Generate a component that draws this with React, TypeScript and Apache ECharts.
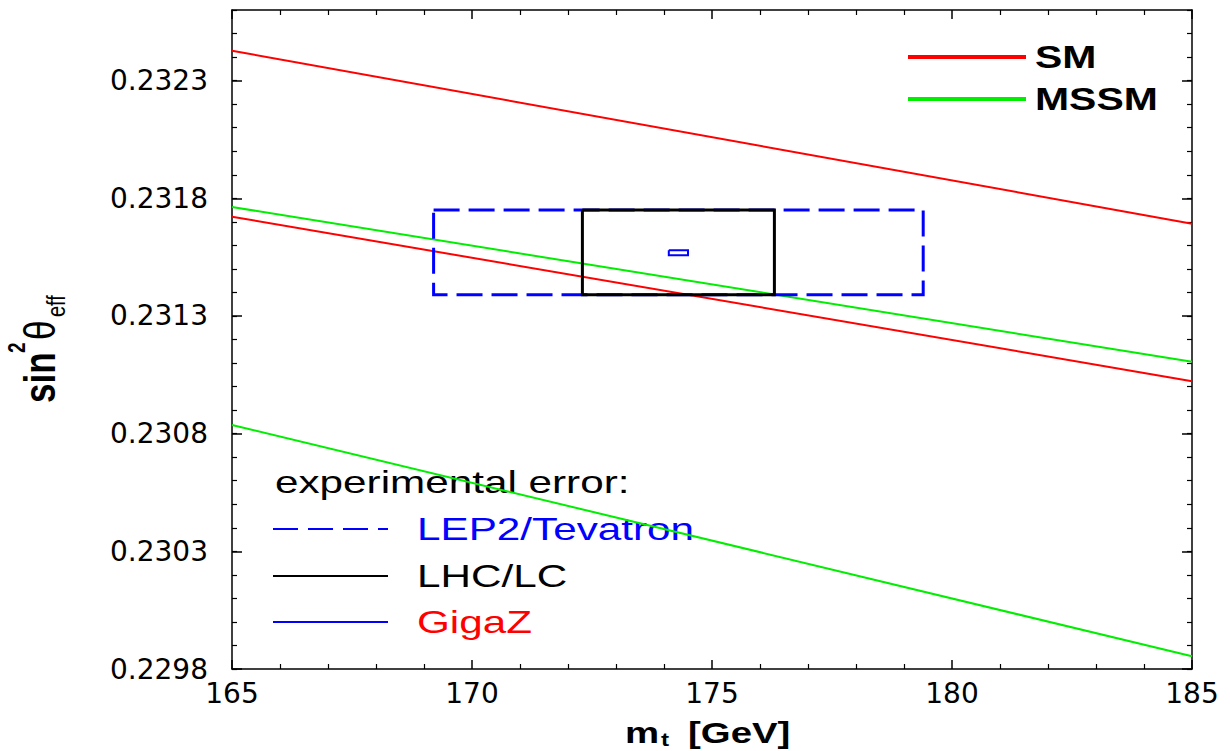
import React, { useEffect, useRef } from "react";
import * as echarts from "echarts";

// ---- data ----
const mtRange = [165, 185];
const smUpper = [0.232427, 0.231692];
const smLower = [0.231722, 0.231023];
const mssmUpper = [0.231763, 0.231105];
const mssmLower = [0.230837, 0.229854];

const lep2Mt = [169.2, 179.4];
const lep2Sw = [0.23139, 0.23175];
const lhcMt = [172.3, 176.3];
const lhcSw = [0.23139, 0.23175];
const gigazMt = [174.1, 174.5];
const gigazSw = [0.231558, 0.231579];

const xTicks = [165, 170, 175, 180, 185];
const yTicks = [0.2298, 0.2303, 0.2308, 0.2313, 0.2318, 0.2323];
const yMin = 0.2298;
const yMax = 0.2326;

const RED = "#ff0000";
const GREEN = "#00ee00";
const BLUE = "#0000ff";
const SANS = "Liberation Sans, Arial, Helvetica, sans-serif";
const SX = 1.28;

const linePts = (ys: number[]) => mtRange.map((m, i) => [m, ys[i]]);
const rectPts = (xs: number[], ys: number[]) => [
  [xs[0], ys[1]],
  [xs[1], ys[1]],
  [xs[1], ys[0]],
  [xs[0], ys[0]],
  [xs[0], ys[1]],
];

function txt(x: number, y: number, text: string, size: number, opts: any = {}) {
  return {
    type: "text",
    x,
    y,
    scaleX: opts.scaleX ?? SX,
    scaleY: opts.scaleY ?? 1,
    rotation: opts.rotation ?? 0,
    silent: true,
    style: {
      text,
      fontSize: size,
      fontFamily: SANS,
      fontWeight: opts.bold ? "bold" : "normal",
      fill: opts.fill ?? "#000",
      align: "left",
      verticalAlign: "middle",
    },
  };
}

function seg(x1: number, y1: number, x2: number, y2: number, stroke: string, lw: number, dash?: number[]) {
  return {
    type: "line",
    silent: true,
    shape: { x1, y1, x2, y2 },
    style: { stroke, lineWidth: lw, lineDash: dash, lineCap: "butt" },
  };
}

export default function App() {
  const ref = useRef<HTMLDivElement>(null);
  useEffect(() => {
    if (!ref.current) return;
    const chart = echarts.init(ref.current, null, { renderer: "svg" });
    const axisLine = { show: true, lineStyle: { color: "#000", width: 1.5 } };
    const majorTick = { show: true, inside: true, length: 10, lineStyle: { color: "#000", width: 1.5 } };
    const minorTick = { show: true, splitNumber: 5, length: 5, lineStyle: { color: "#000", width: 1.2 } };
    const labelFont = { fontFamily: "DejaVu Sans, sans-serif", fontSize: 28, color: "#000" };

    const yMajor = (pos: string, labels: boolean) => ({
      type: "value",
      position: pos,
      offset: 0,
      min: yMin,
      max: yMax,
      axisLine,
      axisTick: { ...majorTick, customValues: yTicks },
      axisLabel: labels
        ? { show: true, customValues: yTicks, margin: 24, formatter: (v: number) => v.toFixed(4), ...labelFont }
        : { show: false },
      splitLine: { show: false },
    });
    const yMinor = (pos: string) => ({
      type: "value",
      position: pos,
      offset: 0,
      min: yMin,
      max: yMax,
      interval: 0.0001,
      axisLine: { show: false },
      axisTick: { show: true, inside: true, length: 5, lineStyle: { color: "#000", width: 1.2 } },
      axisLabel: { show: false },
      splitLine: { show: false },
    });
    const xAxis = (pos: string, labels: boolean) => ({
      type: "value",
      position: pos,
      min: mtRange[0],
      max: mtRange[1],
      interval: 5,
      axisLine,
      axisTick: { ...majorTick, length: 9 },
      minorTick,
      axisLabel: labels ? { show: true, margin: 10, customValues: xTicks, ...labelFont } : { show: false },
      splitLine: { show: false },
      minorSplitLine: { show: false },
    });

    const curve = (name: string, ys: number[], color: string) => ({
      name,
      type: "line",
      data: linePts(ys),
      showSymbol: false,
      symbol: "none",
      silent: true,
      lineStyle: { color, width: 2 },
      z: 3,
    });
    const box = (name: string, xs: number[], ys: number[], color: string, w: number, dash?: any, z = 4) => ({
      name,
      type: "line",
      data: rectPts(xs, ys),
      showSymbol: false,
      symbol: "none",
      silent: true,
      lineStyle: { color, width: w, type: dash ?? "solid", cap: "butt", join: "miter" },
      z,
    });

    const yBase = (b: number, f: number) => b - 0.3465 * f * 1.27;
    const LS = 1.32;

    chart.setOption({
      animation: false,
      backgroundColor: "#fff",
      grid: { left: 232, right: 38, top: 10, bottom: 82, containLabel: false },
      xAxis: [xAxis("bottom", true), xAxis("top", false)],
      yAxis: [yMajor("left", true), yMinor("left"), yMajor("right", false), yMinor("right")],
      series: [
        box("LEP2/Tevatron", lep2Mt, lep2Sw, BLUE, 3, [26, 9], 4),
        box("LHC/LC", lhcMt, lhcSw, "#000", 3, undefined, 5),
        box("GigaZ", gigazMt, gigazSw, BLUE, 2, undefined, 6),
        curve("SM upper", smUpper, RED),
        curve("SM lower", smLower, RED),
        curve("MSSM upper", mssmUpper, GREEN),
        curve("MSSM lower", mssmLower, GREEN),
      ],
      graphic: [
        // top-right legend
        seg(908, 57, 1026, 57, RED, 4),
        seg(908, 99, 1026, 99, GREEN, 4),
        txt(1035, 57, "SM", 32, { bold: true }),
        txt(1035, 99, "MSSM", 32, { bold: true }),
        // experimental error legend
        txt(275, 481.5, "experimental error:", 32, { scaleX: LS }),
        seg(273, 529, 388, 529, BLUE, 2, [25, 10]),
        txt(417, 529, "LEP2/Tevatron", 32, { fill: BLUE, scaleX: LS }),
        seg(273, 576, 388, 576, "#000", 2),
        txt(417, 576, "LHC/LC", 32, { scaleX: LS }),
        seg(273, 622, 388, 622, BLUE, 2),
        txt(417, 622, "GigaZ", 32, { fill: RED, scaleX: LS }),
        // x axis title
        txt(625, 732.5, "m", 30, { bold: true }),
        txt(661, 739, "t", 19, { bold: true }),
        txt(688, 732.5, "[GeV]", 30, { bold: true }),
        // y axis title (rotated)
        txt(yBase(55, 35), 403, "sin", 35, { bold: true, rotation: Math.PI / 2, scaleX: 1, scaleY: 1.27 }),
        txt(yBase(25, 19), 353, "2", 19, { bold: true, rotation: Math.PI / 2, scaleX: 1, scaleY: 1.27 }),
        txt(yBase(55, 35), 340, "θ", 35, { rotation: Math.PI / 2, scaleX: 1, scaleY: 1.27 }),
        txt(yBase(65, 20), 317, "eff", 20, { rotation: Math.PI / 2, scaleX: 1, scaleY: 1.27 }),
      ],
    });
    return () => chart.dispose();
  }, []);
  return (
    <div
      ref={ref}
      style={{ position: "fixed", left: 0, top: 0, width: 1230, height: 751, background: "#fff" }}
    />
  );
}
